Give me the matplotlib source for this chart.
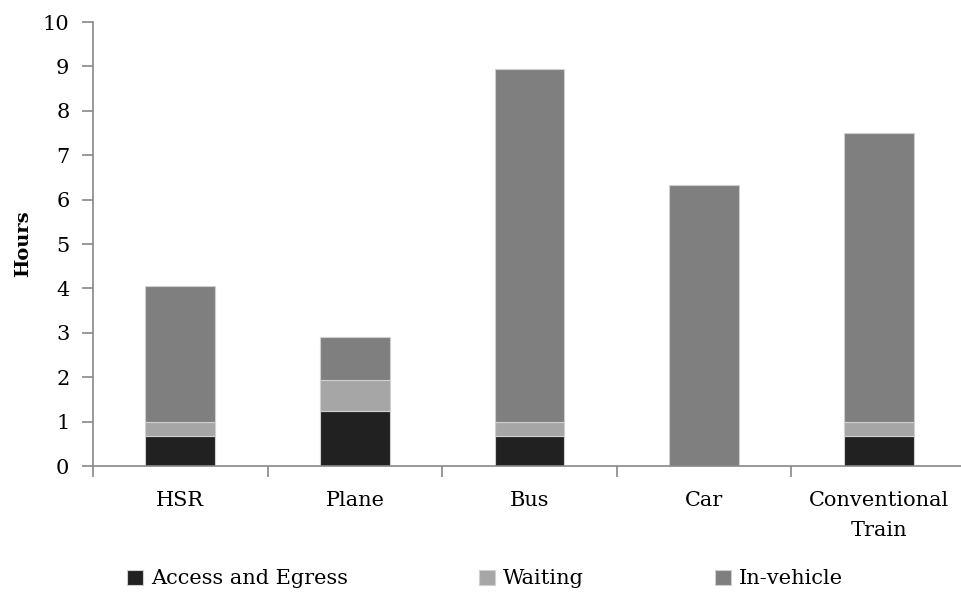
import matplotlib
matplotlib.use("Agg")
import matplotlib.pyplot as plt
import numpy as np
from matplotlib.ticker import FixedLocator, NullFormatter

categories = ["HSR", "Plane", "Bus", "Car", "Conventional\nTrain"]
access = [0.67, 1.25, 0.67, 0.0, 0.67]
waiting = [0.33, 0.68, 0.33, 0.0, 0.33]
in_vehicle = [3.05, 0.97, 7.94, 6.33, 6.50]
series_names = ["Access and Egress", "Waiting", "In-vehicle"]
colors = ["#212121", "#a6a6a6", "#7f7f7f"]

plt.rcParams['font.family'] = ['DejaVu Serif']
fs = 15

fig = plt.figure(figsize=(9.62, 5.99), dpi=100)
W, H = 962, 599
ax = fig.add_axes([93 / W, 133 / H, 873 / W, 444 / H])

x = np.arange(len(categories))
bw = 0.4
bottom = np.zeros(len(categories))
handles = []
for vals, name, c in zip([access, waiting, in_vehicle], series_names, colors):
    b = ax.bar(x, vals, bw, bottom=bottom, color=c, edgecolor="#d0d0d0",
               linewidth=0.8, label=name, zorder=2)
    handles.append(b)
    bottom += np.array(vals)

ax.set_xlim(-0.5, len(categories) - 0.5)
ax.set_ylim(0, 10)
ax.set_yticks(np.arange(0, 11, 1))
ax.set_xticks(x)
ax.set_xticklabels(categories, fontsize=fs, linespacing=1.7)
ax.xaxis.set_minor_locator(FixedLocator(np.arange(-0.5, len(categories), 1.0)))
ax.xaxis.set_minor_formatter(NullFormatter())
ax.tick_params(axis='x', which='major', length=0, pad=18)
ax.tick_params(axis='x', which='minor', length=8, width=1.2, color="#888888", direction='out')
ax.tick_params(axis='y', which='major', length=8, width=1.2, color="#888888",
               direction='out', labelsize=fs, pad=9)
for s in ["top", "right"]:
    ax.spines[s].set_visible(False)
for s in ["left", "bottom"]:
    ax.spines[s].set_color("#888888")
    ax.spines[s].set_linewidth(1.2)

ax.set_ylabel("Hours", fontsize=14, fontweight='bold')
ax.yaxis.set_label_coords(-61 / 873, 0.5)

fig.legend(handles=handles, labels=series_names, loc='center left',
           bbox_to_anchor=(127 / W, 1 - 579 / H), ncol=3, frameon=False,
           fontsize=fs, borderpad=0, borderaxespad=0, handlelength=0.75,
           handleheight=0.75, handletextpad=0.4, columnspacing=6.3)

fig.savefig("out.png", dpi=100)
